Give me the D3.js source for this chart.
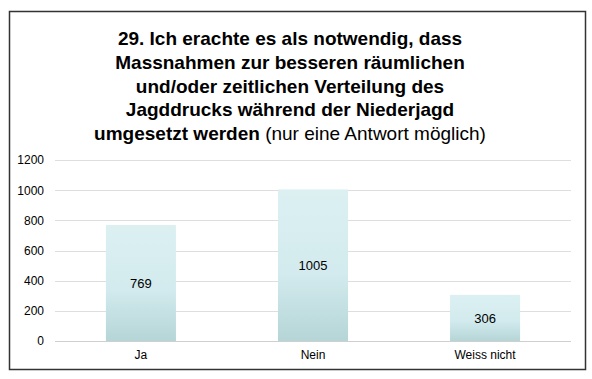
<!DOCTYPE html>
<html><head><meta charset="utf-8">
<script src="https://cdn.jsdelivr.net/npm/d3@7"></script>
<style>body{margin:0;background:#fff}svg{display:block;font-family:"Liberation Sans",Arial,sans-serif}</style>
</head><body><svg id="c" width="592" height="379"></svg>
<script>
const categories = ["Ja", "Nein", "Weiss nicht"];
const values = [769, 1005, 306];
const yTicks = [0, 200, 400, 600, 800, 1000, 1200];
const titleLines = [
  [["29. Ich erachte es als notwendig, dass", true]],
  [["Massnahmen zur besseren räumlichen", true]],
  [["und/oder zeitlichen Verteilung des", true]],
  [["Jagddrucks während der Niederjagd", true]],
  [["umgesetzt werden", true], [" (nur eine Antwort möglich)", false]]
];

const svg = d3.select("#c");
svg.append("rect").attr("x", 9.5).attr("y", 11.5).attr("width", 576).attr("height", 358)
  .attr("fill", "#fff").attr("stroke", "#333").attr("stroke-width", 1.5);

const defs = svg.append("defs");
const g = defs.append("linearGradient").attr("id", "bg").attr("x1", 0).attr("y1", 0).attr("x2", 0).attr("y2", 1);
g.append("stop").attr("offset", "0%").attr("stop-color", "#dcf0f2");
g.append("stop").attr("offset", "55%").attr("stop-color", "#d3ebee");
g.append("stop").attr("offset", "100%").attr("stop-color", "#b5d5d6");

const x = d3.scaleBand().domain(categories).range([55, 571]).paddingInner(0.593).paddingOuter(0.296);
const y = d3.scaleLinear().domain([0, 1200]).range([341, 160]);

const title = svg.append("text").attr("text-anchor", "middle").attr("fill", "#000").style("font-size", "19px");
titleLines.forEach((line, i) => {
  const t = title.append("tspan").attr("x", 290).attr("y", 45 + i * 23.8);
  line.forEach(([txt, bold], j) => {
    if (j === 0) t.text(txt).attr("font-weight", bold ? "bold" : "normal");
    else t.append("tspan").text(txt).attr("font-weight", bold ? "bold" : "normal");
  });
});

svg.append("g").selectAll("line").data(yTicks).join("line")
  .attr("x1", 55).attr("x2", 571).attr("y1", d => Math.round(y(d)) + 0.5).attr("y2", d => Math.round(y(d)) + 0.5)
  .attr("stroke", d => d === 0 ? "#cfcfcf" : "#dedede").attr("stroke-width", 1);

const yAxis = d3.axisLeft(y).tickValues(yTicks).tickFormat(d3.format("d")).tickSize(0).tickPadding(0);
const ya = svg.append("g").attr("transform", "translate(44,0)").call(yAxis);
ya.select(".domain").remove();
ya.selectAll("text").style("font-size", "12px").attr("fill", "#000").attr("font-family", '"Liberation Sans",Arial,sans-serif');

svg.append("g").selectAll("rect").data(values).join("rect")
  .attr("x", (d, i) => x(categories[i])).attr("width", x.bandwidth())
  .attr("y", d => y(d)).attr("height", d => y(0) - y(d)).attr("fill", "url(#bg)");

svg.append("g").selectAll("text").data(values).join("text")
  .attr("x", (d, i) => x(categories[i]) + x.bandwidth() / 2)
  .attr("y", d => (y(d) + y(0)) / 2 + 5)
  .attr("text-anchor", "middle").style("font-size", "13px").attr("fill", "#000").text(d => d);

const xAxis = d3.axisBottom(x).tickSize(0).tickPadding(0);
const xa = svg.append("g").attr("transform", "translate(0,350)").call(xAxis);
xa.select(".domain").remove();
xa.selectAll("text").style("font-size", "12px").attr("fill", "#000").attr("font-family", '"Liberation Sans",Arial,sans-serif');
</script></body></html>
